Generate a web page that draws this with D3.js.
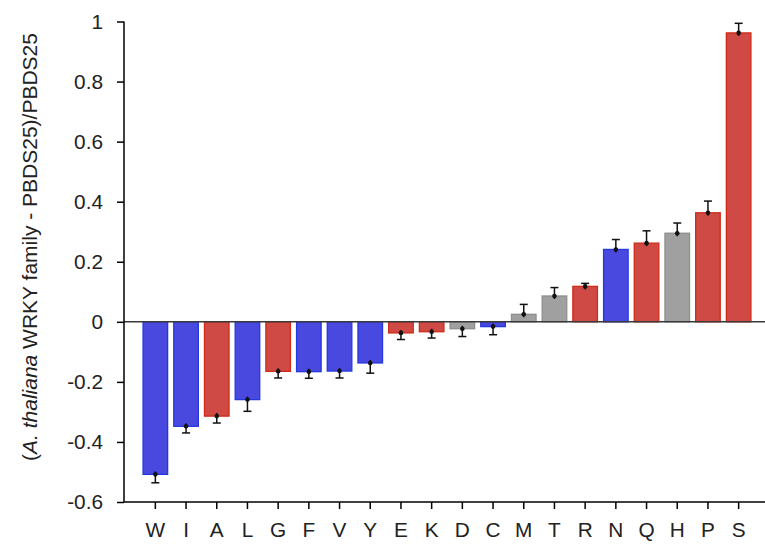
<!DOCTYPE html>
<html>
<head>
<meta charset="utf-8">
<script src="https://cdn.jsdelivr.net/npm/d3@7"></script>
<style>
  body { margin: 0; background: #fff; }
  text { font-family: "Liberation Sans", Arial, sans-serif; }
</style>
</head>
<body>
<div id="chart"></div>
<script>
// amino acids, sorted by value
var residues = ["W", "I", "A", "L", "G", "F", "V", "Y", "E", "K", "D", "C", "M", "T", "R", "N", "Q", "H", "P", "S"];
var values = [-0.508, -0.348, -0.314, -0.259, -0.165, -0.166, -0.164, -0.137, -0.037, -0.033, -0.023, -0.016, 0.025, 0.086, 0.118, 0.241, 0.262, 0.295, 0.363, 0.962];
var errors = [0.028, 0.022, 0.023, 0.039, 0.022, 0.022, 0.023, 0.034, 0.022, 0.021, 0.026, 0.027, 0.033, 0.028, 0.010, 0.033, 0.041, 0.034, 0.039, 0.032];
// residue group: b = blue, r = red, g = grey
var groups = ["b", "b", "r", "b", "r", "b", "b", "b", "r", "r", "g", "b", "g", "g", "r", "b", "r", "g", "r", "r"];
var yTicks = [-0.6, -0.4, -0.2, 0, 0.2, 0.4, 0.6, 0.8, 1];

var fills = {b: "#4949df", r: "#cf4a45", g: "#a0a0a0"};
var strokes = {b: "#2438e0", r: "#d02a18", g: "#8e8e8e"};

var width = 765, height = 550;
var axisX = 124, axisY = 502;
var fontSize = 20.8;

var svg = d3.select("#chart").append("svg")
  .attr("width", width)
  .attr("height", height);

var x = d3.scaleBand()
  .domain(residues)
  .range([140, 754])
  .paddingInner(0.2)
  .paddingOuter(0.1);

var y = d3.scaleLinear()
  .domain([-0.6, 1])
  .range([axisY, 21.5]);

// bars
svg.selectAll("rect.bar")
  .data(residues)
  .enter()
  .append("rect")
  .attr("class", "bar")
  .attr("x", function(d) { return x(d); })
  .attr("width", x.bandwidth())
  .attr("y", function(d, i) { return Math.min(y(values[i]), y(0)); })
  .attr("height", function(d, i) { return Math.abs(y(values[i]) - y(0)); })
  .attr("fill", function(d, i) { return fills[groups[i]]; })
  .attr("stroke", function(d, i) { return strokes[groups[i]]; })
  .attr("stroke-width", 1.3);

// zero line
svg.append("line")
  .attr("x1", axisX).attr("x2", width)
  .attr("y1", y(0)).attr("y2", y(0))
  .attr("stroke", "#3a3a3a")
  .attr("stroke-width", 1.5);

// error bars (outer half with a cap, dot at the mean)
var err = svg.append("g").attr("stroke", "#111").attr("stroke-width", 1.5);
residues.forEach(function(d, i) {
  var cx = x(d) + x.bandwidth() / 2;
  var s = values[i] < 0 ? -1 : 1;
  var yEnd = y(values[i] + s * errors[i]);
  var yIn = y(values[i]) + s * 3;
  err.append("line")
    .attr("x1", cx).attr("x2", cx)
    .attr("y1", yIn).attr("y2", yEnd);
  err.append("line")
    .attr("x1", cx - 4).attr("x2", cx + 4)
    .attr("y1", yEnd).attr("y2", yEnd);
  svg.append("circle")
    .attr("cx", cx).attr("cy", y(values[i]))
    .attr("r", 2.3)
    .attr("fill", "#111");
});

// y axis (plain hyphen for negatives, like the original)
var yAxis = d3.axisLeft(y)
  .tickValues(yTicks)
  .tickSize(7)
  .tickPadding(14)
  .tickFormat(function(d) { return String(+d.toFixed(1)); });

var gy = svg.append("g")
  .attr("transform", "translate(" + axisX + ",0)")
  .call(yAxis);
gy.select(".domain").remove();
gy.append("line")
  .attr("x1", 0).attr("x2", 0)
  .attr("y1", y(1)).attr("y2", axisY)
  .attr("stroke", "#000").attr("stroke-width", 1.5);
gy.selectAll(".tick line").attr("stroke-width", 1.5);
gy.selectAll(".tick text")
  .attr("font-size", fontSize)
  .attr("fill", "#222")
  .style("font-family", "\"Liberation Sans\", Arial, sans-serif");

// x axis
var xAxis = d3.axisBottom(x)
  .tickSize(7)
  .tickPadding(13);

var gx = svg.append("g")
  .attr("transform", "translate(0," + axisY + ")")
  .call(xAxis);
gx.select(".domain").remove();
gx.append("line")
  .attr("x1", axisX).attr("x2", width)
  .attr("y1", 0).attr("y2", 0)
  .attr("stroke", "#000").attr("stroke-width", 1.5);
gx.selectAll(".tick line").attr("stroke-width", 1.5);
gx.selectAll(".tick text")
  .attr("font-size", fontSize)
  .attr("fill", "#222")
  .style("font-family", "\"Liberation Sans\", Arial, sans-serif");

// y label
var label = svg.append("text")
  .attr("transform", "translate(37,247) rotate(-90)")
  .attr("text-anchor", "middle")
  .attr("font-size", 21)
  .attr("fill", "#222");
label.append("tspan").text("(");
label.append("tspan").attr("font-style", "italic").text("A. thaliana");
label.append("tspan").text(" WRKY family - PBDS25)/PBDS25");
</script>
</body>
</html>
